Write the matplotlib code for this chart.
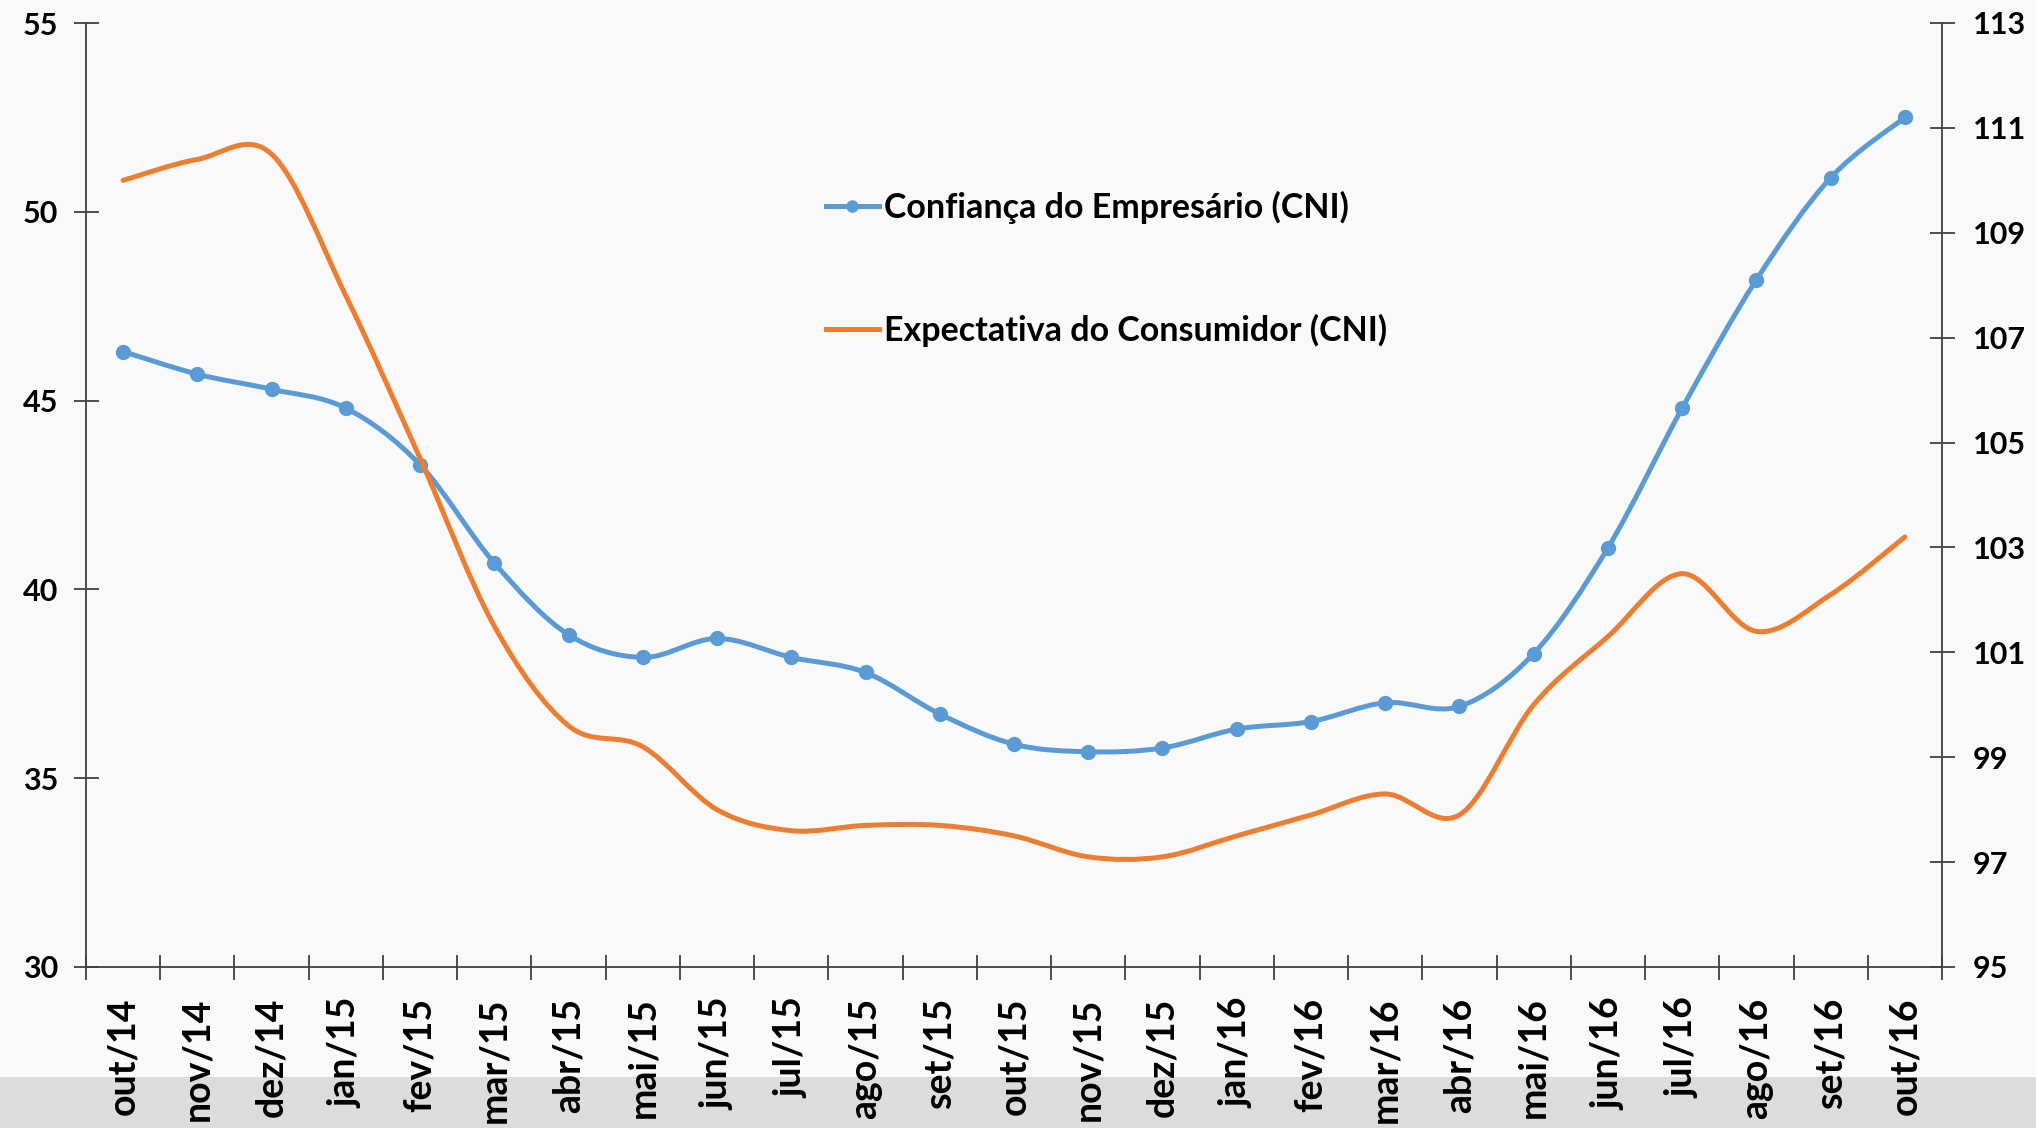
import matplotlib
matplotlib.use("Agg")
import matplotlib.pyplot as plt
from matplotlib.path import Path
from matplotlib.patches import PathPatch, Rectangle
from matplotlib.lines import Line2D
import numpy as np

categories = ["out/14", "nov/14", "dez/14", "jan/15", "fev/15", "mar/15", "abr/15",
              "mai/15", "jun/15", "jul/15", "ago/15", "set/15", "out/15", "nov/15",
              "dez/15", "jan/16", "fev/16", "mar/16", "abr/16", "mai/16", "jun/16",
              "jul/16", "ago/16", "set/16", "out/16"]
confianca = [46.3, 45.7, 45.3, 44.8, 43.3, 40.7, 38.8, 38.2, 38.7, 38.2, 37.8, 36.7,
             35.9, 35.7, 35.8, 36.3, 36.5, 37.0, 36.9, 38.3, 41.1, 44.8, 48.2, 50.9, 52.5]
expectativa = [110.0, 110.4, 110.5, 107.8, 104.7, 101.5, 99.6, 99.2, 98.0, 97.6, 97.7,
               97.7, 97.5, 97.1, 97.1, 97.5, 97.9, 98.3, 97.9, 100.0, 101.3, 102.5,
               101.4, 102.1, 103.2]
label_conf = "Confiança do Empresário (CNI)"
label_exp = "Expectativa do Consumidor (CNI)"
left_ticks = [30, 35, 40, 45, 50, 55]
right_ticks = [95, 97, 99, 101, 103, 105, 107, 109, 111, 113]

BLUE = "#5B9BD5"
ORANGE = "#ED7D31"
FONT = "Lato"
FS = 22
FS_X = 27
FS_LEG = 24.5

plt.rcParams["font.family"] = [FONT, "DejaVu Sans"]
plt.rcParams["font.weight"] = "bold"


def smooth_path(xs, ys, t=1.0 / 6.0):
    pts = np.column_stack([xs, ys]).astype(float)
    n = len(pts)
    verts = [pts[0]]
    codes = [Path.MOVETO]
    for i in range(n - 1):
        p0 = pts[i - 1] if i > 0 else pts[i]
        p1 = pts[i]
        p2 = pts[i + 1]
        p3 = pts[i + 2] if i + 2 < n else pts[i + 1]
        c1 = p1 + (p2 - p0) * t
        c2 = p2 - (p3 - p1) * t
        verts += [c1, c2, p2]
        codes += [Path.CURVE4] * 3
    return Path(verts, codes)


W, H = 2036, 1128
fig = plt.figure(figsize=(W / 100, H / 100), dpi=100)
fig.patch.set_facecolor("#f9f9f9")
fig.patches.append(Rectangle((0, 0), 1, (H - 1077) / H, transform=fig.transFigure,
                             facecolor="#dcdcdc", edgecolor="none", zorder=-10))

left, right = 86 / W, 1942 / W
bottom, top = 1 - 967 / H, 1 - 23 / H
ax = fig.add_axes([left, bottom, right - left, top - bottom])
ax.set_facecolor("none")
ax2 = ax.twinx()
ax2.set_facecolor("none")

x = np.arange(len(categories))

ax.add_patch(PathPatch(smooth_path(x, confianca), facecolor="none", edgecolor=BLUE,
                       lw=3.6, capstyle="round", zorder=3))
ax.plot(x, confianca, linestyle="none", marker="o", markersize=10, color=BLUE, zorder=4)
ax2.add_patch(PathPatch(smooth_path(x, expectativa), facecolor="none", edgecolor=ORANGE,
                        lw=3.6, capstyle="round", zorder=3))

ax.set_xlim(-0.5, len(categories) - 0.5)
ax.set_ylim(30, 55)
ax2.set_ylim(95, 113)

ax.set_yticks(left_ticks)
ax.set_yticklabels([str(v) for v in left_ticks])
ax2.set_yticks(right_ticks)
ax2.set_yticklabels([str(v) for v in right_ticks])

ax.set_xticks(np.arange(-0.5, len(categories)), minor=False)
ax.set_xticklabels([])
ax.set_xticks(x, minor=True)
ax.set_xticklabels(categories, minor=True, rotation=90, fontsize=FS_X, fontweight="bold",
                   family=[FONT, "DejaVu Sans"])

spine_c = "#404040"
for a in (ax, ax2):
    for s in a.spines.values():
        s.set_visible(False)
ax.spines["left"].set_visible(True)
ax.spines["bottom"].set_visible(True)
ax2.spines["right"].set_visible(True)
for s in (ax.spines["left"], ax.spines["bottom"], ax2.spines["right"]):
    s.set_color(spine_c)
    s.set_linewidth(1.3)

ax.tick_params(axis="y", direction="inout", length=18, width=1.3, color=spine_c,
               labelsize=FS, pad=11)
ax2.tick_params(axis="y", direction="inout", length=18, width=1.3, color=spine_c,
                labelsize=FS, pad=13)
ax.tick_params(axis="x", which="major", direction="inout", length=18, width=1.3,
               color=spine_c)
ax.tick_params(axis="x", which="minor", length=0, pad=22, labelsize=FS_X)
for lab in ax.get_yticklabels() + ax2.get_yticklabels():
    lab.set_fontweight("bold")

handles = [Line2D([], [], color=BLUE, lw=3.6, marker="o", markersize=8),
           Line2D([], [], color=ORANGE, lw=3.6)]
fig.legend(handles, [label_conf, label_exp], loc="upper left",
           bbox_to_anchor=(826 / W, 1 - 191 / H), frameon=False, borderpad=0,
           borderaxespad=0, handlelength=1.55, handletextpad=0.15, labelspacing=2.64,
           prop={"family": [FONT, "DejaVu Sans"], "weight": "bold", "size": FS_LEG})

fig.savefig("out.png", dpi=100, facecolor=fig.get_facecolor())
